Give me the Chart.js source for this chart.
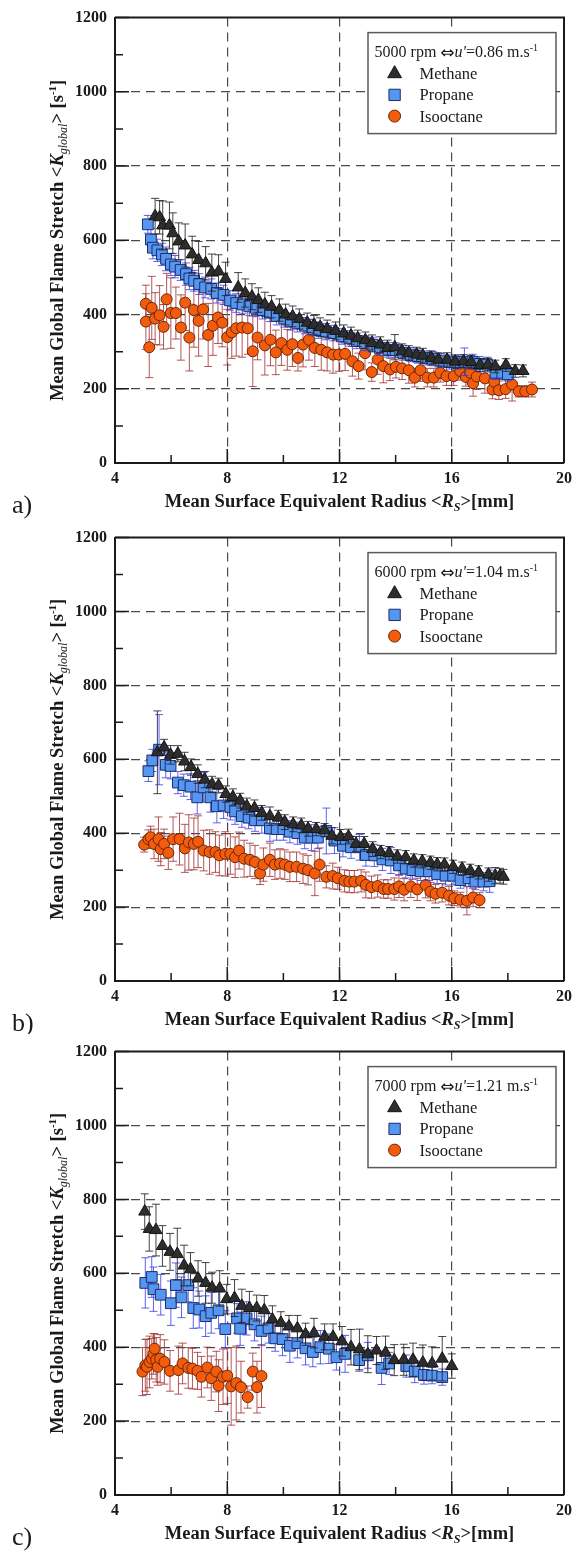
<!DOCTYPE html>
<html>
<head>
<meta charset="utf-8">
<script src="https://cdn.jsdelivr.net/npm/chart.js@4.4.1/dist/chart.umd.min.js"></script>
<style>
  body { margin: 0; background: #fff; }
  canvas { position: absolute; left: 0; }
</style>
</head>
<body>
<canvas id="chartA" width="578" height="520" style="top:0px"></canvas>
<canvas id="chartB" width="578" height="514" style="top:520px"></canvas>
<canvas id="chartC" width="578" height="524" style="top:1034px"></canvas>
<script>
//Series names, legend header text and panel tags
const seriesNames = ["Methane", "Propane", "Isooctane"];
const rpmLabels = ["5000 rpm", "6000 rpm", "7000 rpm"];
const uPrimeLabels = ["0.86", "1.04", "1.21"];
const panelTags = ["a)", "b)", "c)"];

//Panel a) - 5000 rpm
const methaneR_a = [5.43,5.59,5.70,5.94,6.06,6.27,6.50,6.75,6.98,7.23, 7.45,7.69,7.94,8.39,8.64,8.88,9.11,9.34,9.58,9.86, 10.08,10.33,10.57,10.85,11.09,11.31,11.56,11.86,12.15,12.41, 12.65,12.92,13.16,13.45,13.71,13.97,14.23,14.47,14.75,14.97, 15.27,15.53,15.83,16.12,16.42,16.69,17.01,17.29,17.55,17.93, 18.26,18.54];
const methaneK_a = [665,662,640,640,619,597,586,562,547,538, 513,516,496,473,458,448,439,427,421,412, 400,395,388,378,372,366,361,356,349,343, 336,331,323,319,310,312,301,296,292,289, 283,278,278,273,274,272,264,265,260,264, 248,248];
const methaneErr_a = [48,45,66,63,55,50,58,49,50,45, 50,45,45,40,38,35,33,33,30,30, 28,28,27,26,25,25,24,24,23,23, 22,22,22,21,21,34,20,20,20,20, 19,19,19,18,18,18,18,17,17,17, 17,16];
const propaneR_a = [5.17,5.28,5.35,5.51,5.67,5.82,5.99,6.14,6.34,6.53, 6.65,6.82,7.00,7.21,7.43,7.63,7.87,8.10,8.32,8.55, 8.79,9.02,9.26,9.52,9.76,10.03,10.26,10.50,10.77,11.03, 11.26,11.52,11.79,12.09,12.35,12.62,12.91,13.17,13.44,13.74, 14.00,14.27,14.53,14.80,15.09,15.33,15.62,15.92,16.21,16.45, 16.74,16.98,17.27,17.56,17.80,18.00];
const propaneK_a = [643,602,580,573,562,550,535,529,520,509, 497,491,482,473,469,458,453,438,431,427, 422,418,412,405,396,389,381,376,370,365, 358,354,350,341,336,329,323,319,310,305, 304,297,292,288,283,281,276,272,272,273, 273,267,265,243,243,239];
const propaneErr_a = [24,30,30,30,30,32,30,30,28,30, 30,28,28,28,27,27,26,26,25,25, 25,24,24,24,24,23,23,23,22,22, 22,22,21,21,21,21,20,20,20,20, 20,20,19,19,19,19,19,19,19,37, 20,20,20,18,18,18];
const isooctaneR_a = [5.10,5.10,5.22,5.31,5.43,5.59,5.73,5.84,5.99,6.17, 6.35,6.50,6.65,6.81,6.98,7.14,7.32,7.49,7.67,7.82, 8.00,8.16,8.32,8.53,8.73,8.91,9.08,9.34,9.54,9.73, 9.93,10.14,10.32,10.52,10.70,10.91,11.12,11.35,11.56,11.77, 11.98,12.20,12.46,12.68,12.91,13.15,13.36,13.56,13.80,14.01, 14.23,14.47,14.68,14.89,15.13,15.36,15.59,15.81,16.07,16.30, 16.50,16.66,16.76,16.89,17.18,17.45,17.51,17.68,17.92,18.15, 18.39,18.62,18.86];
const isooctaneK_a = [429,381,312,418,389,398,367,441,404,404, 365,432,338,412,383,414,345,370,392,378, 339,352,363,365,363,301,338,317,332,298, 323,305,320,283,319,332,310,305,298,292, 292,294,274,261,296,245,279,261,252,259, 255,250,230,250,230,230,243,234,234,248, 232,243,215,233,228,198,219,196,199,212, 193,193,198];
const isooctaneErr_a = [50,75,82,85,70,80,60,70,95,70, 88,75,90,100,95,80,85,80,70,65, 75,70,75,80,70,95,60,80,70,60, 60,55,60,35,60,55,50,55,50,50, 45,45,40,35,45,25,40,45,30,30, 30,35,25,30,25,25,25,25,25,25, 25,30,35,35,40,25,30,25,25,45, 15,15,20];

//Panel b) - 6000 rpm
const methaneR_b = [5.51,5.75,5.98,6.24,6.48,6.71,6.95,7.20,7.46,7.69, 7.95,8.20,8.46,8.70,8.97,9.23,9.52,9.82,10.05,10.35, 10.64,10.88,11.17,11.47,11.73,12.04,12.32,12.59,12.88,13.18, 13.47,13.77,14.06,14.36,14.65,14.95,15.24,15.48,15.74,16.05, 16.37,16.66,16.96,17.31,17.55,17.72,17.84];
const methaneK_b = [619,632,612,615,594,579,560,545,532,529, 506,498,488,473,468,455,446,442,430,424, 421,412,411,408,393,390,391,371,371,357, 349,346,337,335,326,324,320,316,315,309, 304,298,294,288,285,285,282];
const methaneErr_b = [112,22,25,22,25,22,25,22,22,20, 22,22,20,22,22,20,25,20,20,20, 20,20,18,18,22,20,20,20,20,20, 18,18,18,18,18,18,18,18,18,18, 18,18,18,18,22,20,20];
const propaneR_b = [5.19,5.33,5.57,5.81,5.98,6.24,6.45,6.69,6.93,7.16, 7.40,7.63,7.87,8.11,8.28,8.52,8.76,8.99,9.23,9.52, 9.76,10.00,10.23,10.50,10.76,11.00,11.23,11.53,11.82,12.12, 12.41,12.71,12.94,13.24,13.53,13.83,14.12,14.36,14.60,14.89, 15.19,15.48,15.78,16.05,16.31,16.60,16.84,17.13,17.35];
const propaneK_b = [568,597,626,585,582,537,530,526,497,524, 497,473,475,471,459,446,442,435,435,413, 411,411,404,400,388,388,388,406,380,366, 362,362,341,340,329,326,313,304,300,297, 297,289,285,285,273,278,269,269,270];
const propaneErr_b = [28,30,95,35,35,30,30,35,45,40, 40,45,35,35,35,30,30,30,35,35, 30,30,30,30,30,35,30,62,35,30, 30,35,30,30,30,35,25,25,25,25, 25,25,25,25,22,22,22,25,30];
const isooctaneR_b = [5.04,5.19,5.27,5.39,5.55,5.63,5.75,5.90,6.07,6.30, 6.49,6.63,6.81,6.96,7.16,7.37,7.58,7.72,7.93,8.11, 8.28,8.42,8.60,8.81,8.99,9.17,9.29,9.52,9.70,9.88, 10.05,10.23,10.47,10.70,10.88,11.12,11.29,11.53,11.76,11.94, 12.18,12.35,12.53,12.77,12.94,13.14,13.36,13.57,13.73,13.95, 14.12,14.30,14.54,14.77,15.07,15.24,15.42,15.66,15.90,16.09, 16.31,16.54,16.76,16.99];
const isooctaneK_b = [369,384,389,371,384,357,371,347,384,384, 359,375,371,377,353,349,349,340,344,344, 335,353,331,328,322,291,315,328,315,318, 315,309,309,304,300,291,315,282,284,278, 271,269,269,271,260,254,257,249,249,249, 256,247,256,248,260,242,236,239,231,224, 220,217,226,219];
const isooctaneErr_b = [20,25,30,40,60,45,40,45,60,70, 65,75,70,70,55,60,55,55,60,55, 55,50,50,45,45,30,45,45,40,40, 40,40,40,40,40,60,45,30,35,30, 30,30,30,30,35,30,30,25,25,30, 30,30,30,30,35,25,25,25,25,20, 20,38,25,20];

//Panel c) - 7000 rpm
const methaneR_c = [5.06,5.22,5.46,5.69,5.96,6.22,6.46,6.69,6.96,7.23, 7.46,7.73,7.98,8.26,8.52,8.79,9.05,9.32,9.61,9.91, 10.20,10.50,10.79,11.09,11.47,11.77,12.09,12.41,12.71,13.01, 13.32,13.64,13.95,14.29,14.62,14.97,15.30,15.66,16.00];
const methaneK_c = [767,720,717,674,658,652,621,611,586,574, 561,559,530,533,512,506,506,500,475,466, 456,451,435,438,428,428,416,400,394,381, 391,385,365,366,366,358,356,369,349];
const methaneErr_c = [48,60,70,55,50,70,55,45,48,55, 42,48,40,50,45,45,35,40,37,30, 30,35,30,40,35,35,40,48,55,50, 38,45,42,42,45,48,45,60,33];
const propaneR_c = [5.08,5.31,5.37,5.63,5.99,6.17,6.37,6.61,6.79,7.00, 7.23,7.43,7.69,7.93,8.35,8.46,8.69,8.97,9.22,9.47, 9.71,9.97,10.23,10.50,10.79,11.05,11.32,11.62,11.89,12.20, 12.70,13.01,13.50,13.77,14.38,14.68,15.01,15.30,15.66];
const propaneK_c = [574,590,557,542,519,568,535,568,506,502, 484,493,500,449,478,450,478,462,444,451, 424,422,404,411,397,387,400,396,373,382, 365,378,344,356,349,334,325,323,319];
const propaneErr_c = [68,55,60,55,60,60,55,45,55,50, 55,55,50,50,40,45,45,45,40,40, 35,45,45,40,45,40,45,40,35,50, 30,35,45,30,30,30,25,22,22];
const isooctaneR_c = [4.98,5.08,5.14,5.23,5.31,5.37,5.41,5.47,5.52,5.61, 5.76,5.96,6.26,6.41,6.61,6.76,6.94,7.08,7.29,7.43, 7.61,7.69,7.85,8.00,8.14,8.32,8.49,8.73,8.91,9.06, 9.22];
const isooctaneK_c = [334,351,347,360,369,382,396,366,347,369, 360,336,338,356,344,342,336,320,345,316, 334,296,320,323,294,303,292,265,334,292, 322];
const isooctaneErr_c = [65,70,75,70,55,55,40,60,50,65, 60,55,65,55,55,55,50,55,55,60, 55,70,75,75,105,100,70,30,50,70, 85];

const SERIF = "'Liberation Serif', 'DejaVu Serif', serif";
const INK = "#1a1a1a";

//Marker look for each fuel
const seriesStyles = [
  { pointStyle: "triangle", radius: 7, legendRadius: 8, fill: "#2d2d2d", stroke: "#151515", err: "rgba(35,35,35,0.85)" },
  { pointStyle: "rect", radius: 7.6, legendRadius: 8, fill: "#5596f0", stroke: "#1e2c6e", err: "rgba(55,60,235,0.8)" },
  { pointStyle: "circle", radius: 5.5, legendRadius: 6, fill: "#f25c0c", stroke: "#6b2608", err: "rgba(160,45,45,0.8)" },
];

//draw a row of text pieces with different fonts
const drawRuns = (ctx, runs, x, y, centered) => {
  let total = 0;
  runs.forEach((r) => {
    ctx.font = r.font;
    r.w = ctx.measureText(r.text).width;
    total += r.w;
  });
  let cx = centered ? x - total / 2 : x;
  runs.forEach((r) => {
    ctx.font = r.font;
    ctx.fillText(r.text, cx, y + (r.dy || 0));
    cx += r.w;
  });
};

//Error bars, drawn just before each dataset's markers
const errorBars = {
  id: "errorBars",
  beforeDatasetDraw(chart, args) {
    const ds = chart.data.datasets[args.index];
    if (!ds.errors) return;
    const { ctx, chartArea: a, scales: { x, y } } = chart;
    ctx.save();
    ctx.beginPath();
    ctx.rect(a.left, a.top, a.right - a.left, a.bottom - a.top);
    ctx.clip();
    ctx.strokeStyle = ds.errorColor;
    ctx.lineWidth = 1;
    ctx.beginPath();
    ds.data.forEach((p, i) => {
      const e = ds.errors[i];
      const px = x.getPixelForValue(p.x);
      const hi = y.getPixelForValue(p.y + e);
      const lo = y.getPixelForValue(p.y - e);
      ctx.moveTo(px, hi); ctx.lineTo(px, lo);
      ctx.moveTo(px - 4, hi); ctx.lineTo(px + 4, hi);
      ctx.moveTo(px - 4, lo); ctx.lineTo(px + 4, lo);
    });
    ctx.stroke();
    ctx.restore();
  },
};

//Inner tick marks plus top/right frame
const frame = {
  id: "frame",
  afterDatasetsDraw(chart) {
    const { ctx, chartArea: a, scales: { x, y } } = chart;
    ctx.save();
    ctx.strokeStyle = INK;
    ctx.lineWidth = 1.5;
    ctx.beginPath();
    y.ticks.forEach((t) => {
      const py = y.getPixelForValue(t.value);
      const len = t.value % 200 === 0 ? 14 : 8;
      ctx.moveTo(a.left, py); ctx.lineTo(a.left + len, py);
    });
    x.ticks.forEach((t) => {
      const px = x.getPixelForValue(t.value);
      const len = t.value % 4 === 0 ? 14 : 8;
      ctx.moveTo(px, a.bottom); ctx.lineTo(px, a.bottom - len);
    });
    ctx.stroke();
    ctx.lineWidth = 2;
    ctx.beginPath();
    ctx.moveTo(a.left, a.top); ctx.lineTo(a.right, a.top); ctx.lineTo(a.right, a.bottom);
    ctx.stroke();
    ctx.restore();
  },
};

//Axis titles, panel tag and the boxed legend
const panelText = {
  id: "panelText",
  afterDraw(chart, args, opts) {
    const { ctx, chartArea: a } = chart;
    ctx.save();
    ctx.fillStyle = INK;
    ctx.textAlign = "left";
    ctx.textBaseline = "alphabetic";

    drawRuns(ctx, [
      { text: "Mean Surface Equivalent Radius <", font: "bold 18.5px " + SERIF },
      { text: "R", font: "italic bold 18.5px " + SERIF },
      { text: "S", font: "italic bold 12px " + SERIF, dy: 4 },
      { text: ">[mm]", font: "bold 18.5px " + SERIF },
    ], (a.left + a.right) / 2, a.bottom + 44, true);

    ctx.save();
    ctx.translate(63, (a.top + a.bottom) / 2);
    ctx.rotate(-Math.PI / 2);
    drawRuns(ctx, [
      { text: "Mean Global Flame Stretch <", font: "bold 18.5px " + SERIF },
      { text: "K", font: "italic bold 18.5px " + SERIF },
      { text: "global", font: "italic 12px " + SERIF, dy: 4 },
      { text: "> [s", font: "bold 18.5px " + SERIF },
      { text: "-1", font: "bold 11px " + SERIF, dy: -7 },
      { text: "]", font: "bold 18.5px " + SERIF },
    ], 0, 0, true);
    ctx.restore();

    ctx.font = "26px " + SERIF;
    ctx.fillText(opts.tag, 12, a.bottom + 50);

    //legend box
    const bx = a.right - 196, by = a.top + 15, bw = 188, bh = 101;
    ctx.fillStyle = "#fff";
    ctx.fillRect(bx, by, bw, bh);
    ctx.strokeStyle = "#5a5a5a";
    ctx.lineWidth = 1.5;
    ctx.strokeRect(bx, by, bw, bh);
    ctx.fillStyle = INK;
    drawRuns(ctx, [
      { text: opts.rpm + " ", font: "16px " + SERIF },
      { text: "\u21D4", font: "17px 'DejaVu Sans', sans-serif", dy: 1 },
      { text: "u'", font: "italic 16px " + SERIF },
      { text: "=" + opts.u + " m.s", font: "16px " + SERIF },
      { text: "-1", font: "10px " + SERIF, dy: -6 },
    ], bx + 6.6, by + 24, false);
    chart.data.datasets.forEach((ds, i) => {
      const base = by + 46.6 + i * 21.2;
      ctx.fillStyle = ds.backgroundColor;
      ctx.strokeStyle = ds.borderColor;
      ctx.lineWidth = 1;
      Chart.helpers.drawPoint(ctx, { pointStyle: ds.pointStyle, radius: ds.legendRadius, borderWidth: 1, rotation: 0 }, bx + 26.6, base - 5.5);
      ctx.fillStyle = INK;
      ctx.font = "16.5px " + SERIF;
      ctx.fillText(ds.label, bx + 51.6, base);
    });
    ctx.restore();
  },
};

const buildDatasets = (series) =>
  series.map((s, i) => ({
    label: seriesNames[i],
    data: s[0].map((r, j) => ({ x: r, y: s[1][j] })),
    errors: s[2],
    errorColor: seriesStyles[i].err,
    pointStyle: seriesStyles[i].pointStyle,
    pointRadius: seriesStyles[i].radius,
    legendRadius: seriesStyles[i].legendRadius,
    backgroundColor: seriesStyles[i].fill,
    borderColor: seriesStyles[i].stroke,
    borderWidth: 1,
    showLine: false,
  }));

const tickFont = { family: SERIF, size: 16, weight: "bold" };

const makeChart = (id, p) =>
  new Chart(document.getElementById(id), {
    type: "scatter",
    data: { datasets: buildDatasets(p.series) },
    options: {
      responsive: false,
      animation: false,
      events: [],
      layout: { padding: { top: p.padTop, right: 10, left: 0, bottom: 0 } },
      plugins: {
        legend: { display: false },
        tooltip: { enabled: false },
        panelText: { tag: p.tag, rpm: p.rpm, u: p.u },
      },
      scales: {
        x: {
          type: "linear",
          min: 4,
          max: 20,
          afterFit: (s) => { s.height = p.xHeight; },
          ticks: {
            stepSize: 2,
            autoSkip: false,
            maxRotation: 0,
            padding: 6,
            color: INK,
            font: tickFont,
            callback: (v) => (v % 4 === 0 ? v : ""),
          },
          grid: {
            drawTicks: false,
            lineWidth: 1.2,
            color: (c) => ([8, 12, 16].includes(c.tick && c.tick.value) ? "#4a4a4a" : "rgba(0,0,0,0)"),
          },
          border: { color: INK, width: 2, dash: [9, 6] },
        },
        y: {
          type: "linear",
          min: 0,
          max: 1200,
          afterFit: (s) => { s.width = 115; },
          ticks: {
            stepSize: 100,
            autoSkip: false,
            padding: 8,
            color: INK,
            font: tickFont,
            callback: (v) => (v % 200 === 0 ? v : ""),
          },
          grid: {
            drawTicks: false,
            lineWidth: 1.2,
            color: (c) => {
              const v = c.tick ? c.tick.value : -1;
              return v > 0 && v < 1200 && v % 200 === 0 ? "#4a4a4a" : "rgba(0,0,0,0)";
            },
          },
          border: { color: INK, width: 2, dash: [9, 6] },
        },
      },
    },
    plugins: [errorBars, frame, panelText],
  });

makeChart("chartA", {
  tag: panelTags[0], rpm: rpmLabels[0], u: uPrimeLabels[0], padTop: 11, xHeight: 57,
  series: [[methaneR_a, methaneK_a, methaneErr_a], [propaneR_a, propaneK_a, propaneErr_a], [isooctaneR_a, isooctaneK_a, isooctaneErr_a]],
});
makeChart("chartB", {
  tag: panelTags[1], rpm: rpmLabels[1], u: uPrimeLabels[1], padTop: 11, xHeight: 53,
  series: [[methaneR_b, methaneK_b, methaneErr_b], [propaneR_b, propaneK_b, propaneErr_b], [isooctaneR_b, isooctaneK_b, isooctaneErr_b]],
});
makeChart("chartC", {
  tag: panelTags[2], rpm: rpmLabels[2], u: uPrimeLabels[2], padTop: 13, xHeight: 63,
  series: [[methaneR_c, methaneK_c, methaneErr_c], [propaneR_c, propaneK_c, propaneErr_c], [isooctaneR_c, isooctaneK_c, isooctaneErr_c]],
});
</script>
</body>
</html>
